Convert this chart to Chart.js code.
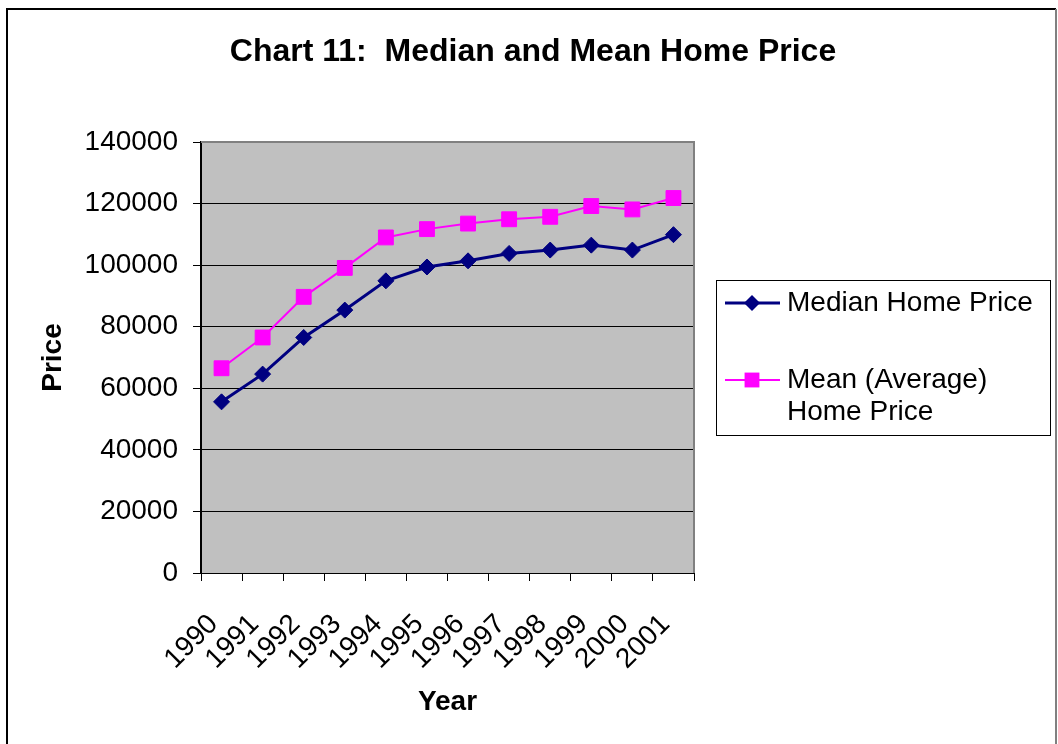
<!DOCTYPE html>
<html>
<head>
<meta charset="utf-8">
<script src="https://cdn.jsdelivr.net/npm/chart.js@4/dist/chart.umd.min.js"></script>
<style>
  html, body { margin: 0; padding: 0; background: #fff; }
  #wrap { width: 1058px; height: 744px; position: relative; }
</style>
</head>
<body>
<div id="wrap"><canvas id="priceChart" width="1058" height="744"></canvas></div>
<script>
// Home prices by year
const years = ['1990', '1991', '1992', '1993', '1994', '1995', '1996', '1997', '1998', '1999', '2000', '2001'];
const medianPrice = [55600, 64600, 76500, 85400, 94900, 99400, 101400, 103800, 104900, 106500, 104900, 109900];
const meanPrice = [66500, 76500, 89700, 99100, 109000, 111700, 113500, 114900, 115700, 119200, 118100, 121800];
const yTicks = [0, 20000, 40000, 60000, 80000, 100000, 120000, 140000];
const chartTitle = 'Chart 11:  Median and Mean Home Price';

const FONT = '"Liberation Sans", Arial, Helvetica, sans-serif';
Chart.defaults.font.family = FONT;
Chart.defaults.color = '#000';

// gray plot background + gray top/right frame of the plot
const plotFrame = {
  id: 'plotFrame',
  beforeDraw(chart) {
    const { ctx, chartArea: a } = chart;
    ctx.save();
    ctx.fillStyle = '#c0c0c0';
    ctx.fillRect(a.left, a.top, a.right - a.left, a.bottom - a.top);
    ctx.restore();
  },
  beforeDatasetsDraw(chart) {
    const { ctx, chartArea: a } = chart;
    ctx.save();
    ctx.strokeStyle = '#808080';
    ctx.lineWidth = 2;
    ctx.beginPath();
    ctx.moveTo(a.left, a.top);
    ctx.lineTo(a.right, a.top);
    ctx.lineTo(a.right, a.bottom);
    ctx.stroke();
    ctx.restore();
  }
};

function drawMarker(ctx, style, x, y, r, color) {
  ctx.fillStyle = color;
  ctx.beginPath();
  if (style === 'rectRot') {
    ctx.moveTo(x, y - r); ctx.lineTo(x + r, y); ctx.lineTo(x, y + r); ctx.lineTo(x - r, y);
  } else {
    const s = r * Math.SQRT1_2;
    ctx.rect(x - s, y - s, 2 * s, 2 * s);
  }
  ctx.closePath();
  ctx.fill();
}

// boxed legend on the right, with wrapped labels
const sideLegend = {
  id: 'sideLegend',
  afterDraw(chart, args, opts) {
    const { ctx } = chart;
    ctx.save();
    ctx.strokeStyle = '#000';
    ctx.lineWidth = 1;
    ctx.strokeRect(opts.left + 0.5, opts.top + 0.5, opts.width, opts.height);
    ctx.font = '28px ' + FONT;
    ctx.textBaseline = 'middle';
    ctx.textAlign = 'left';
    chart.data.datasets.forEach((ds, i) => {
      const y = opts.top + opts.firstY + i * opts.itemGap;
      const x0 = opts.left + 9;
      ctx.strokeStyle = ds.borderColor;
      ctx.lineWidth = ds.borderWidth;
      ctx.beginPath();
      ctx.moveTo(x0, y);
      ctx.lineTo(x0 + 55, y);
      ctx.stroke();
      drawMarker(ctx, ds.pointStyle, x0 + 27, y, ds.pointRadius, ds.pointBackgroundColor);
      // wrap text to fit the box
      const maxW = opts.width - 80;
      const words = ds.label.split(' ');
      const lines = [];
      let line = '';
      words.forEach(w => {
        const t = line ? line + ' ' + w : w;
        if (ctx.measureText(t).width > maxW && line) { lines.push(line); line = w; } else line = t;
      });
      lines.push(line);
      ctx.fillStyle = '#000';
      lines.forEach((l, j) => ctx.fillText(l, x0 + 62, y + j * 32));
    });
    ctx.restore();
  }
};

// title and outer page frame
const pageFrame = {
  id: 'pageFrame',
  afterDraw(chart) {
    const { ctx } = chart;
    ctx.save();
    ctx.font = 'bold 32px ' + FONT;
    ctx.fillStyle = '#000';
    ctx.textAlign = 'center';
    ctx.textBaseline = 'middle';
    ctx.fillText(chartTitle, 533, 52);
    ctx.lineWidth = 2;
    ctx.strokeStyle = '#000';
    ctx.beginPath();
    ctx.moveTo(7, 744); ctx.lineTo(7, 9); ctx.lineTo(1056, 9);
    ctx.stroke();
    ctx.strokeStyle = '#808080';
    ctx.beginPath();
    ctx.moveTo(1056, 9); ctx.lineTo(1056, 744);
    ctx.stroke();
    ctx.restore();
  }
};

new Chart(document.getElementById('priceChart'), {
  type: 'line',
  data: {
    labels: years,
    datasets: [
      {
        label: 'Median Home Price',
        data: medianPrice,
        borderColor: '#000080',
        backgroundColor: '#000080',
        pointBackgroundColor: '#000080',
        pointBorderColor: '#000080',
        borderWidth: 3,
        pointStyle: 'rectRot',
        pointRadius: 8,
        pointBorderWidth: 1,
        tension: 0
      },
      {
        label: 'Mean (Average) Home Price',
        data: meanPrice,
        borderColor: '#ff00ff',
        backgroundColor: '#ff00ff',
        pointBackgroundColor: '#ff00ff',
        pointBorderColor: '#ff00ff',
        borderWidth: 2,
        pointStyle: 'rect',
        pointRadius: 10.5,
        pointBorderWidth: 1,
        tension: 0
      }
    ]
  },
  options: {
    responsive: false,
    animation: false,
    layout: { padding: { left: 20, right: 364, top: 142, bottom: 0 } },
    plugins: {
      legend: { display: false },
      tooltip: { enabled: false },
      title: { display: false },
      sideLegend: { left: 716, top: 280, width: 334, height: 155, firstY: 23, itemGap: 77 }
    },
    scales: {
      x: {
        offset: true,
        grid: { display: true, drawOnChartArea: false, drawTicks: true, tickLength: 8, tickColor: '#000', offset: true },
        border: { display: true, color: '#000', width: 1 },
        ticks: { autoSkip: false, maxRotation: 45, minRotation: 45, font: { size: 28 }, color: '#000', padding: 27, labelOffset: -8 },
        title: { display: true, text: 'Year', font: { size: 28, weight: 'bold' }, color: '#000', padding: { top: 0, bottom: 25.2 } },
        afterFit(scale) { scale.height = 171; }
      },
      y: {
        min: 0,
        max: 140000,
        afterBuildTicks(scale) { scale.ticks = yTicks.map(v => ({ value: v })); },
        grid: {
          color: c => (c.tick && c.tick.value === 140000 ? '#808080' : '#000'),
          lineWidth: 1,
          tickLength: 8,
          tickColor: '#000'
        },
        border: { display: true, color: '#000', width: 2 },
        ticks: { font: { size: 28 }, color: '#000', padding: 15, callback: v => String(v) },
        title: { display: true, text: 'Price', font: { size: 28, weight: 'bold' }, color: '#000', padding: { top: 16.2, bottom: 0 } },
        afterFit(scale) { scale.width = 181; }
      }
    }
  },
  plugins: [plotFrame, sideLegend, pageFrame]
});
</script>
</body>
</html>
